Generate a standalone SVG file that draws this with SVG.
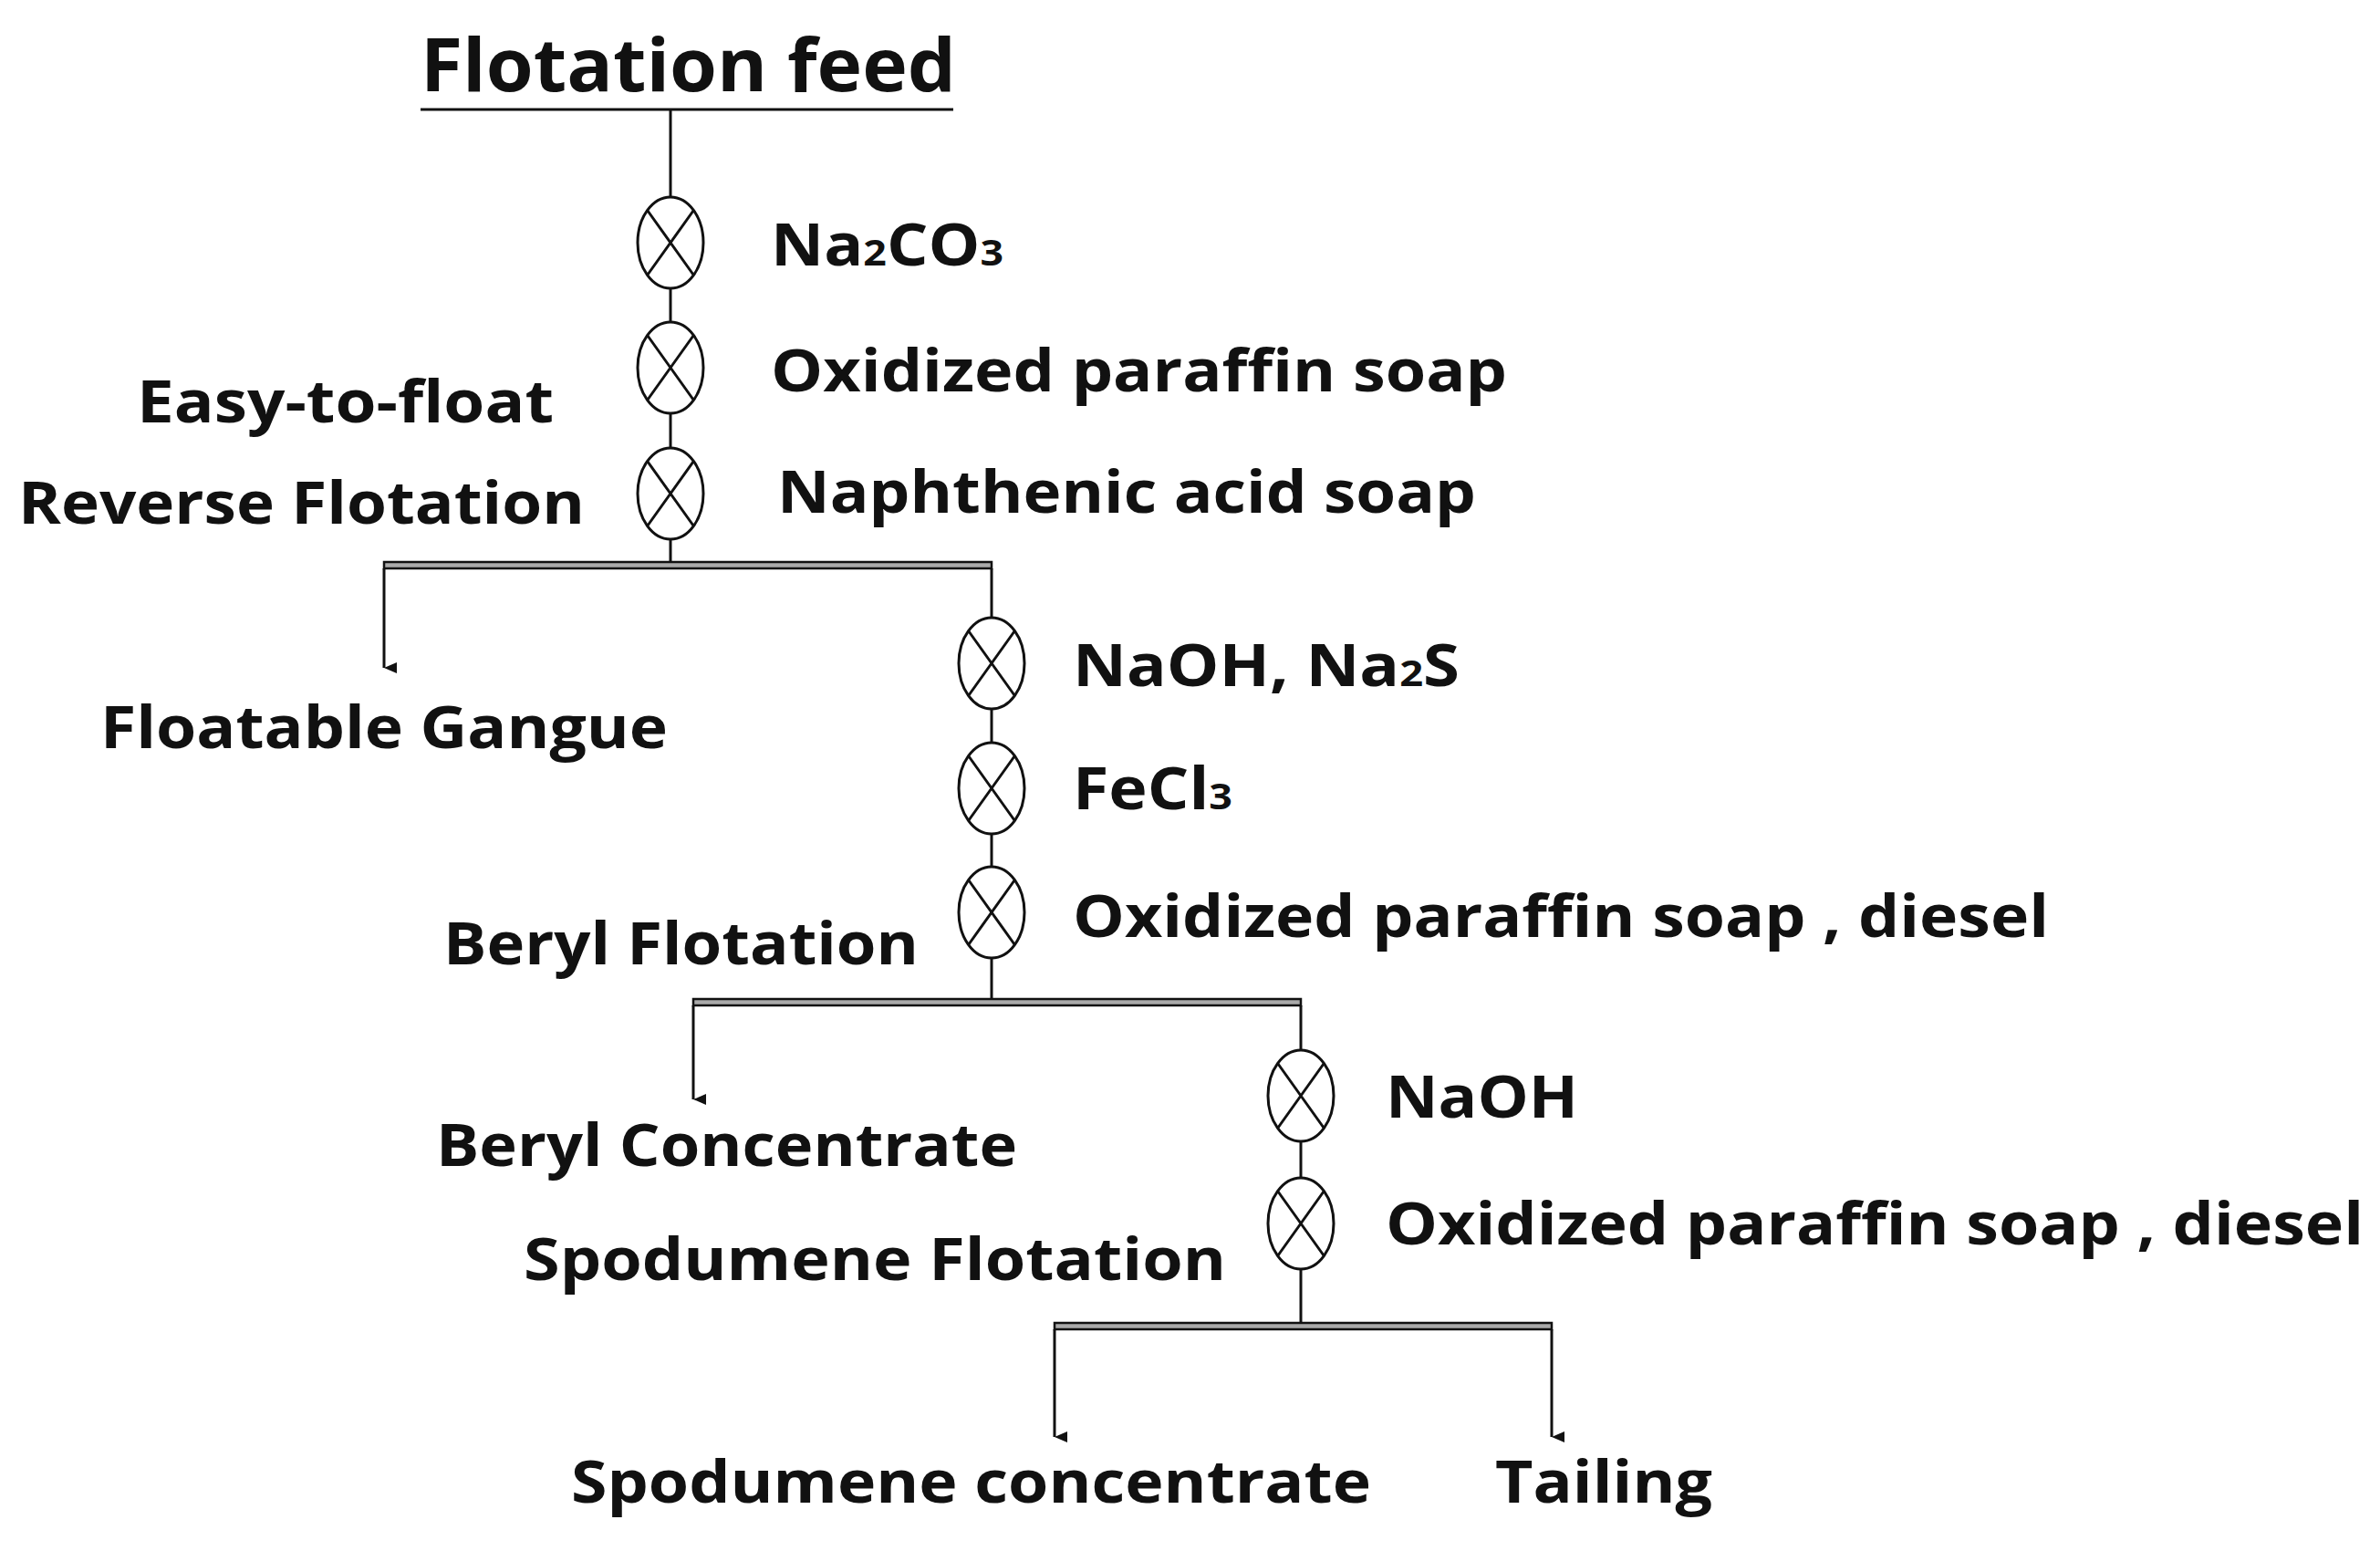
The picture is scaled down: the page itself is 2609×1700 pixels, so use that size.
<svg xmlns="http://www.w3.org/2000/svg" width="2609" height="1700" viewBox="0 0 2609 1700">
<style>
text{font-family:"Open Sans","Noto Sans","Liberation Sans",sans-serif;font-weight:bold;fill:#111;font-size:64px}
.t{font-size:80px}
.s{font-size:40px}
.ln{stroke:#111;stroke-width:3;fill:none}
.bar{fill:#aaa;stroke:#111;stroke-width:2.5}
</style>
<defs>
<marker id="ah" markerWidth="12" markerHeight="14" refX="6" refY="14" orient="auto" markerUnits="userSpaceOnUse" viewBox="0 0 12 14"><path d="M0,0 L12,0 L6,14 Z" fill="#111"/></marker>
<g id="mix"><ellipse cx="0" cy="0" rx="36" ry="50" class="ln"/><path class="ln" d="M-25,-35 L25,35 M25,-35 L-25,35"/></g>
</defs>
<g id="title"><text class="t" x="461" y="100" textLength="587" lengthAdjust="spacingAndGlyphs">Flotation feed</text><line class="ln" x1="461" y1="120" x2="1045" y2="120"/></g>
<g id="connectors">
<line class="ln" x1="735" y1="120" x2="735" y2="216"/>
<line class="ln" x1="735" y1="316" x2="735" y2="353"/>
<line class="ln" x1="735" y1="453" x2="735" y2="491"/>
<line class="ln" x1="735" y1="591" x2="735" y2="616"/>
<rect class="bar" x="421" y="616" width="666" height="7"/>
<line class="ln" x1="421" y1="623" x2="421" y2="732" marker-end="url(#ah)"/>
<line class="ln" x1="1087" y1="623" x2="1087" y2="677"/>
<line class="ln" x1="1087" y1="777" x2="1087" y2="814"/>
<line class="ln" x1="1087" y1="914" x2="1087" y2="950"/>
<line class="ln" x1="1087" y1="1050" x2="1087" y2="1095"/>
<rect class="bar" x="760" y="1095" width="666" height="7"/>
<line class="ln" x1="760" y1="1102" x2="760" y2="1205" marker-end="url(#ah)"/>
<line class="ln" x1="1426" y1="1102" x2="1426" y2="1151"/>
<line class="ln" x1="1426" y1="1251" x2="1426" y2="1291"/>
<line class="ln" x1="1426" y1="1391" x2="1426" y2="1450"/>
<rect class="bar" x="1156" y="1450" width="545" height="7"/>
<line class="ln" x1="1156" y1="1457" x2="1156" y2="1575" marker-end="url(#ah)"/>
<line class="ln" x1="1701" y1="1457" x2="1701" y2="1575" marker-end="url(#ah)"/>
</g>
<g id="n1"><use href="#mix" x="735" y="266"/><text x="845" y="291" textLength="255" lengthAdjust="spacingAndGlyphs">Na<tspan class="s">2</tspan>CO<tspan class="s">3</tspan></text></g>
<g id="n2"><use href="#mix" x="735" y="403"/><text x="845" y="429" textLength="807" lengthAdjust="spacingAndGlyphs">Oxidized paraffin soap</text></g>
<g id="n3"><use href="#mix" x="735" y="541"/><text x="852" y="562" textLength="766" lengthAdjust="spacingAndGlyphs">Naphthenic acid soap</text></g>
<g id="lbl1"><text x="150" y="463" textLength="457" lengthAdjust="spacingAndGlyphs">Easy-to-float</text><text x="20" y="574" textLength="621" lengthAdjust="spacingAndGlyphs">Reverse Flotation</text></g>
<g id="gangue"><text x="110" y="820" textLength="622" lengthAdjust="spacingAndGlyphs">Floatable Gangue</text></g>
<g id="n4"><use href="#mix" x="1087" y="727"/><text x="1176" y="752" textLength="424" lengthAdjust="spacingAndGlyphs">NaOH, Na<tspan class="s">2</tspan>S</text></g>
<g id="n5"><use href="#mix" x="1087" y="864"/><text x="1176" y="887" textLength="175" lengthAdjust="spacingAndGlyphs">FeCl<tspan class="s">3</tspan></text></g>
<g id="n6"><use href="#mix" x="1087" y="1000"/><text x="1176" y="1027" textLength="1070" lengthAdjust="spacingAndGlyphs">Oxidized paraffin soap , diesel</text></g>
<g id="lbl2"><text x="486" y="1057" textLength="521" lengthAdjust="spacingAndGlyphs">Beryl Flotation</text></g>
<g id="beryl"><text x="478" y="1278" textLength="637" lengthAdjust="spacingAndGlyphs">Beryl Concentrate</text></g>
<g id="n7"><use href="#mix" x="1426" y="1201"/><text x="1519" y="1225" textLength="211" lengthAdjust="spacingAndGlyphs">NaOH</text></g>
<g id="n8"><use href="#mix" x="1426" y="1341"/><text x="1519" y="1364" textLength="1072" lengthAdjust="spacingAndGlyphs">Oxidized paraffin soap , diesel</text></g>
<g id="lbl3"><text x="574" y="1403" textLength="770" lengthAdjust="spacingAndGlyphs">Spodumene Flotation</text></g>
<g id="spod"><text x="626" y="1647" textLength="877" lengthAdjust="spacingAndGlyphs">Spodumene concentrate</text></g>
<g id="tail"><text x="1639" y="1647" textLength="238" lengthAdjust="spacingAndGlyphs">Tailing</text></g>
</svg>
